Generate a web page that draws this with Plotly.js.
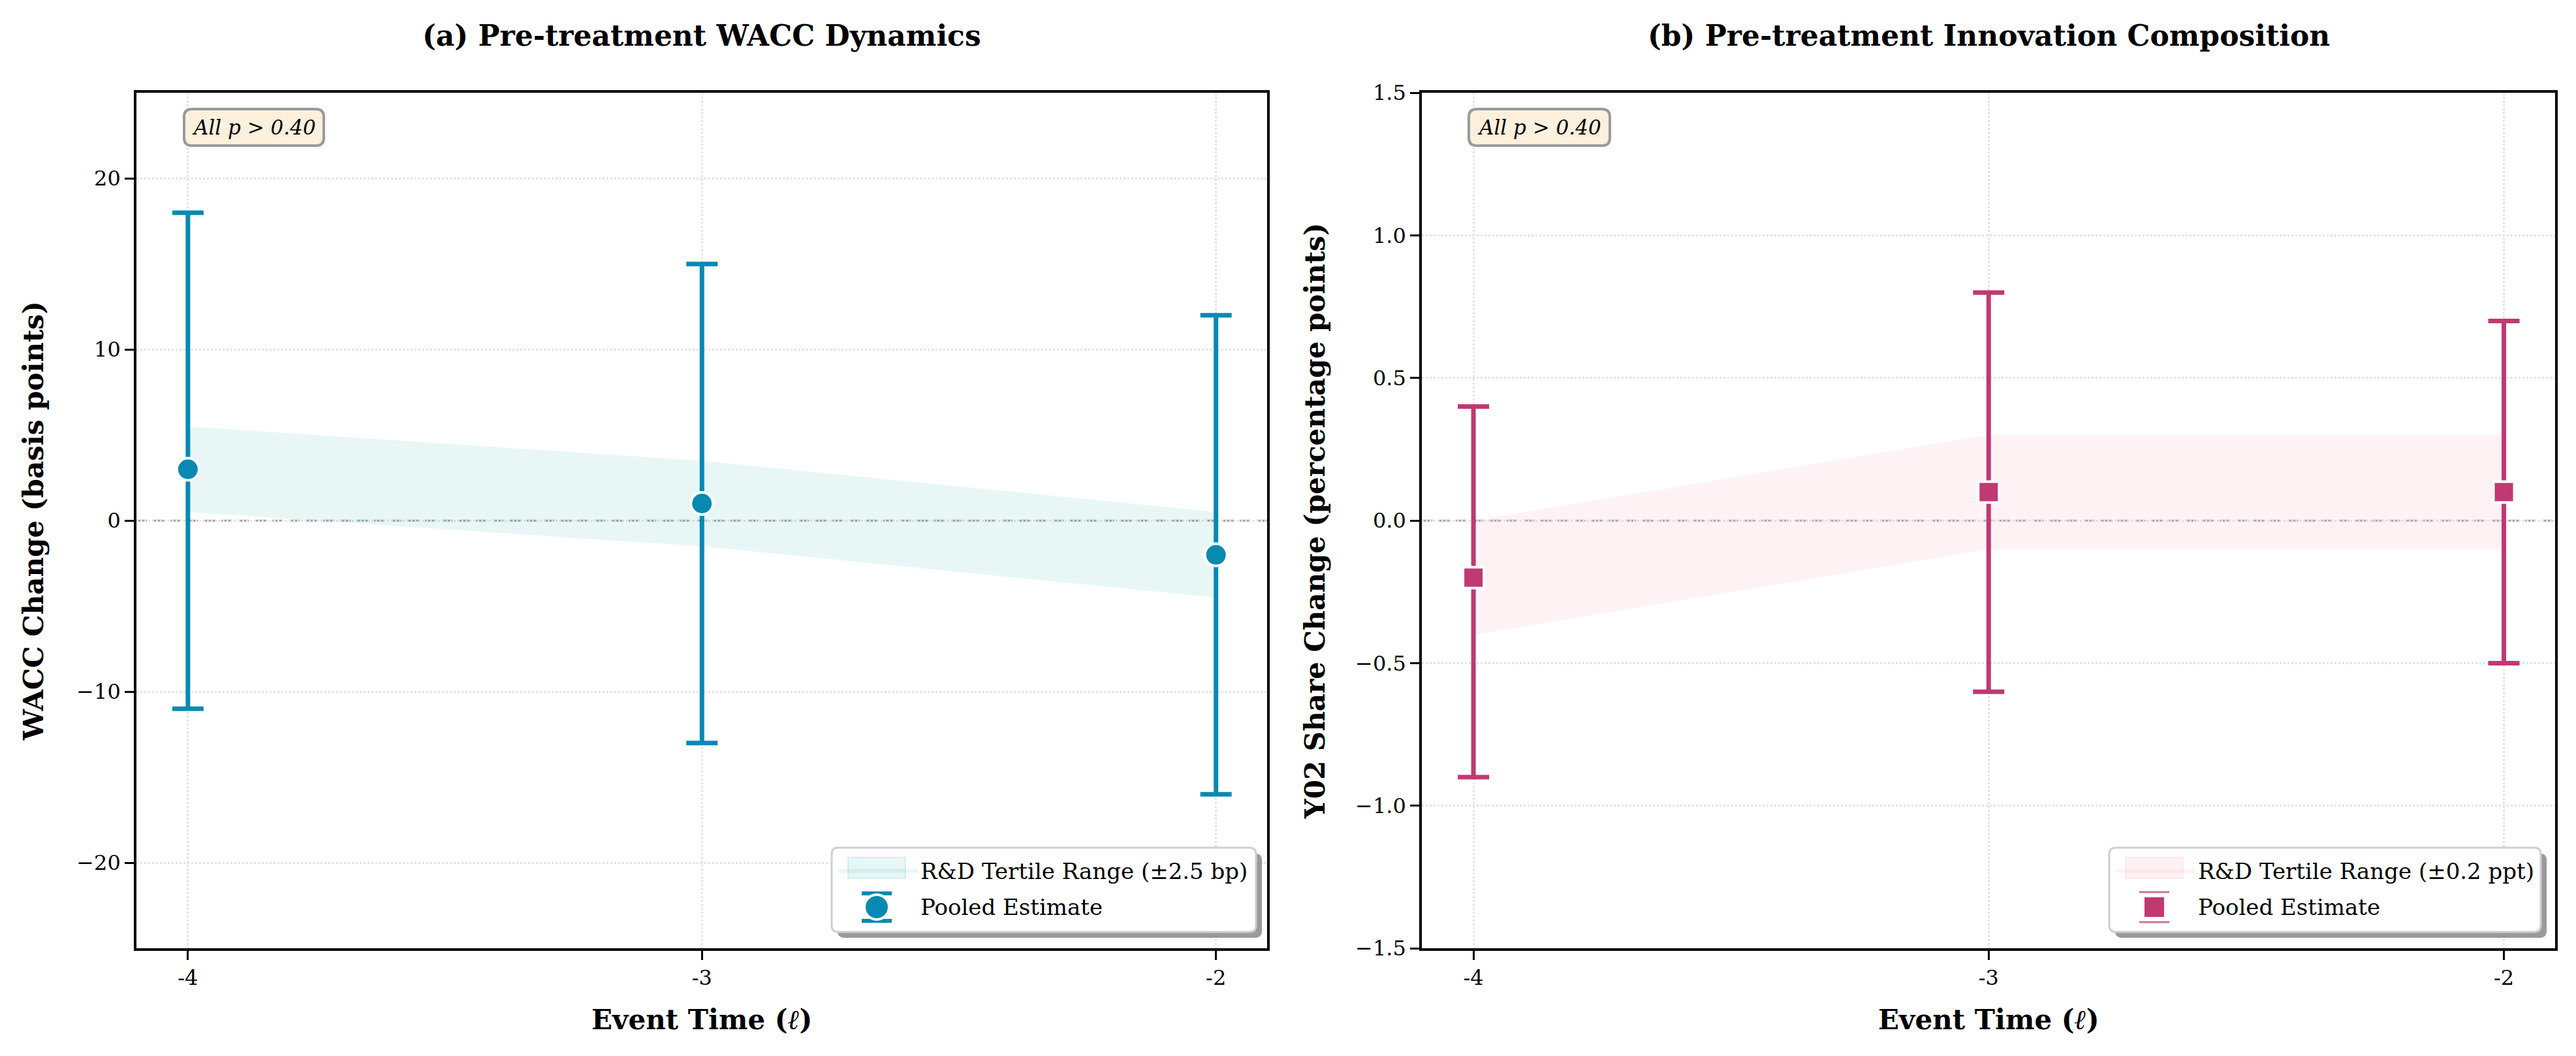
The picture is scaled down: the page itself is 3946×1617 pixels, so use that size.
<!DOCTYPE html>
<html>
<head>
<meta charset="utf-8">
<script src="https://cdn.plot.ly/plotly-3.0.1.min.js"></script>
<style>html,body{margin:0;padding:0;background:#fff;}#chart{width:3946px;height:1617px;}</style>
</head>
<body>
<div id="chart"></div>
<script>
// ---- data ----
const eventTime = [-4, -3, -2];
const eventTickText = ['-4', '-3', '-2'];

const waccEstimate = [3, 1, -2];
const waccCIUpper = [18, 15, 12];
const waccCILower = [-11, -13, -16];
const waccBandHalfWidth = 2.5;

const y02Estimate = [-0.2, 0.1, 0.1];
const y02CIUpper = [0.4, 0.8, 0.7];
const y02CILower = [-0.9, -0.6, -0.5];
const y02BandHalfWidth = 0.2;

const waccTicks = [-20, -10, 0, 10, 20];
const waccTickText = ['\u221220', '\u221210', '0', '10', '20'];
const y02Ticks = [-1.5, -1.0, -0.5, 0, 0.5, 1.0, 1.5];
const y02TickText = ['\u22121.5', '\u22121.0', '\u22120.5', '0.0', '0.5', '1.0', '1.5'];

// ---- styles ----
const W = 3946, H = 1617;
const FONT = 'DejaVu Serif';
const TEAL = '#0889b1';
const MAG = '#bf3a72';
const MAG_LIGHT = '#d2709a';
const TEAL_FILL = 'rgba(0,150,160,0.09)';
const MAG_FILL = 'rgba(255,180,195,0.17)';

function band(est, hw) {
  const up = est.map(v => v + hw);
  const lo = est.map(v => v - hw);
  return {
    x: eventTime.concat(eventTime.slice().reverse()),
    y: up.concat(lo.slice().reverse())
  };
}

const bw = band(waccEstimate, waccBandHalfWidth);
const by = band(y02Estimate, y02BandHalfWidth);

const traces = [
  {
    x: bw.x, y: bw.y, xaxis: 'x', yaxis: 'y', type: 'scatter', mode: 'lines',
    fill: 'toself', fillcolor: TEAL_FILL, line: {width: 0, color: 'rgba(0,150,160,0.10)'},
    name: 'R&D Tertile Range (\u00b12.5 bp)', legend: 'legend', legendgroup: 'a1', hoverinfo: 'skip'
  },
  {
    x: eventTime, y: waccEstimate, xaxis: 'x', yaxis: 'y', type: 'scatter', mode: 'markers',
    marker: {symbol: 'circle', size: 34, color: TEAL, line: {color: '#ffffff', width: 4}},
    error_y: {type: 'data', symmetric: false,
      array: waccCIUpper.map((u, i) => u - waccEstimate[i]),
      arrayminus: waccEstimate.map((e, i) => e - waccCILower[i]),
      color: TEAL, thickness: 7, width: 24},
    name: 'Pooled Estimate', showlegend: false
  },
  {
    // legend entry for the pooled estimate (no points of its own)
    x: [null], y: [null], xaxis: 'x', yaxis: 'y', type: 'scatter', mode: 'markers',
    marker: {symbol: 'circle', size: 14, color: TEAL, line: {width: 0}},
    name: 'Pooled Estimate', legend: 'legend', legendgroup: 'a2'
  },
  {
    x: by.x, y: by.y, xaxis: 'x2', yaxis: 'y2', type: 'scatter', mode: 'lines',
    fill: 'toself', fillcolor: MAG_FILL, line: {width: 0, color: 'rgba(255,170,190,0.15)'},
    name: 'R&D Tertile Range (\u00b10.2 ppt)', legend: 'legend2', legendgroup: 'b1', hoverinfo: 'skip'
  },
  {
    x: eventTime, y: y02Estimate, xaxis: 'x2', yaxis: 'y2', type: 'scatter', mode: 'markers',
    marker: {symbol: 'square', size: 32, color: MAG, line: {color: '#ffffff', width: 4}},
    error_y: {type: 'data', symmetric: false,
      array: y02CIUpper.map((u, i) => u - y02Estimate[i]),
      arrayminus: y02Estimate.map((e, i) => e - y02CILower[i]),
      color: MAG, thickness: 7, width: 24},
    name: 'Pooled Estimate', showlegend: false
  },
  {
    x: [null], y: [null], xaxis: 'x2', yaxis: 'y2', type: 'scatter', mode: 'markers',
    marker: {symbol: 'square', size: 14, color: MAG, line: {width: 0}},
    name: 'Pooled Estimate', legend: 'legend2', legendgroup: 'b2'
  }
];

function xAxis(domain) {
  return {
    domain: domain, range: [-4.1, -1.9], tickmode: 'array', tickvals: eventTime, ticktext: eventTickText,
    showline: true, linecolor: '#000', linewidth: 4, mirror: true,
    ticks: 'outside', ticklen: 14, tickwidth: 3, tickcolor: '#000',
    showgrid: true, gridcolor: '#e3e3e3', griddash: 'dot', gridwidth: 3,
    zeroline: false, tickfont: {family: FONT, size: 32, color: '#000'},
    title: {text: '<b>Event Time (<i>\u2113</i>)</b>', font: {family: FONT, size: 42, color: '#000'}, standoff: 32}
  };
}
function yAxis(domain, range, tv, tt, label, anchor, standoff) {
  return {
    domain: domain, range: range, tickmode: 'array', tickvals: tv, ticktext: tt, anchor: anchor,
    showline: true, linecolor: '#000', linewidth: 4, mirror: true,
    ticks: 'outside', ticklen: 14, tickwidth: 3, tickcolor: '#000',
    showgrid: true, gridcolor: '#e3e3e3', griddash: 'dot', gridwidth: 3,
    zeroline: false, tickfont: {family: FONT, size: 32, color: '#000'},
    title: {text: '<b>' + label + '</b>', font: {family: FONT, size: 42, color: '#000'}, standoff: standoff}
  };
}

// rounded rectangle path in paper coords from pixel box
function rrect(x0, y0, x1, y1, r) {
  const px = v => (v / W).toFixed(5);
  const py = v => (1 - v / H).toFixed(5);
  return 'M' + px(x0 + r) + ',' + py(y0) +
    ' L' + px(x1 - r) + ',' + py(y0) +
    ' Q' + px(x1) + ',' + py(y0) + ' ' + px(x1) + ',' + py(y0 + r) +
    ' L' + px(x1) + ',' + py(y1 - r) +
    ' Q' + px(x1) + ',' + py(y1) + ' ' + px(x1 - r) + ',' + py(y1) +
    ' L' + px(x0 + r) + ',' + py(y1) +
    ' Q' + px(x0) + ',' + py(y1) + ' ' + px(x0) + ',' + py(y1 - r) +
    ' L' + px(x0) + ',' + py(y0 + r) +
    ' Q' + px(x0) + ',' + py(y0) + ' ' + px(x0 + r) + ',' + py(y0) + ' Z';
}
const PX = v => v / W, PY = v => 1 - v / H;
function hline(xa, xb, y, color, width) {
  return {type: 'line', xref: 'paper', yref: 'paper', layer: 'above',
    x0: PX(xa), x1: PX(xb), y0: PY(y), y1: PY(y), line: {color: color, width: width}};
}
// legend frame, shadow, band swatch and enlarged estimate symbol; cx = symbol centre
function legendDeco(x0, y0, x1, y1, cx, fill, edge, kind) {
  const out = [
    {type: 'path', xref: 'paper', yref: 'paper', layer: 'above', path: rrect(x0 + 9, y0 + 9, x1 + 9, y1 + 9, 10),
      fillcolor: 'rgba(120,120,120,0.75)', line: {width: 0}},
    {type: 'path', xref: 'paper', yref: 'paper', layer: 'above', path: rrect(x0, y0, x1, y1, 10),
      fillcolor: '#ffffff', line: {color: '#cfcfcf', width: 3}},
    {type: 'rect', xref: 'paper', yref: 'paper', layer: 'above',
      x0: PX(cx - 44), x1: PX(cx + 44), y0: PY(y0 + 15), y1: PY(y0 + 47),
      fillcolor: fill, line: {color: edge, width: 2}}
  ];
  const cy = y0 + 91;
  if (kind === 'circle') {
    out.push(hline(cx - 23, cx + 23, cy - 21, TEAL, 6));
    out.push(hline(cx - 23, cx + 23, cy + 21, TEAL, 6));
    out.push({type: 'circle', xref: 'paper', yref: 'paper', layer: 'above',
      x0: PX(cx - 19), x1: PX(cx + 19), y0: PY(cy - 19), y1: PY(cy + 19),
      fillcolor: TEAL, line: {color: '#ffffff', width: 4}});
  } else {
    out.push(hline(cx - 23, cx + 23, cy - 23, MAG_LIGHT, 3));
    out.push(hline(cx - 23, cx + 23, cy + 23, MAG_LIGHT, 3));
    out.push({type: 'rect', xref: 'paper', yref: 'paper', layer: 'above',
      x0: PX(cx - 16), x1: PX(cx + 16), y0: PY(cy - 16), y1: PY(cy + 16),
      fillcolor: MAG, line: {color: '#ffffff', width: 2}});
  }
  return out;
}
function pBox(x0, y0, x1, y1) {
  return {type: 'path', xref: 'paper', yref: 'paper', layer: 'above', path: rrect(x0, y0, x1, y1, 12),
    fillcolor: '#fdf0dd', line: {color: '#9a9a9a', width: 4}};
}

const yDom = [0.102, 0.912];
const legendFont = {family: FONT, size: 34, color: '#000'};
const L1X = 1280, L2X = 3237;
const layout = {
  width: W, height: H,
  margin: {l: 0, r: 0, t: 0, b: 0},
  paper_bgcolor: '#fff', plot_bgcolor: '#fff',
  font: {family: FONT, color: '#000'},
  xaxis: Object.assign(xAxis([0.053, 0.492]), {anchor: 'y'}),
  yaxis: yAxis(yDom, [-25, 25], waccTicks, waccTickText, 'WACC Change (basis points)', 'x', 38),
  xaxis2: Object.assign(xAxis([0.552, 0.992]), {anchor: 'y2'}),
  yaxis2: yAxis(yDom, [-1.5, 1.5], y02Ticks, y02TickText, 'Y02 Share Change (percentage points)', 'x2', 34),
  showlegend: true,
  legend: {x: L1X / W, y: 1 - 1304 / H, xanchor: 'left', yanchor: 'top', xref: 'paper', yref: 'paper',
    bgcolor: 'rgba(0,0,0,0)', borderwidth: 0, font: legendFont, itemwidth: 120,
    traceorder: 'grouped', tracegroupgap: 8},
  legend2: {x: L2X / W, y: 1 - 1304 / H, xanchor: 'left', yanchor: 'top', xref: 'paper', yref: 'paper',
    bgcolor: 'rgba(0,0,0,0)', borderwidth: 0, font: legendFont, itemwidth: 120,
    traceorder: 'grouped', tracegroupgap: 8},
  shapes: [
    {type: 'line', xref: 'x domain', yref: 'y', x0: 0, x1: 1, y0: 0, y1: 0, layer: 'below',
      line: {color: '#a0a0a0', width: 3, dash: '16px,10px'}},
    {type: 'line', xref: 'x2 domain', yref: 'y2', x0: 0, x1: 1, y0: 0, y1: 0, layer: 'below',
      line: {color: '#a0a0a0', width: 3, dash: '16px,10px'}}
  ].concat(legendDeco(1274, 1298, 1924, 1427, L1X + 63, TEAL_FILL, 'rgba(0,150,160,0.12)', 'circle'))
   .concat(legendDeco(3231, 1298, 3892, 1427, L2X + 63, MAG_FILL, 'rgba(255,170,190,0.2)', 'square'))
   .concat([pBox(282, 167, 496, 223), pBox(2250, 167, 2466, 223)]),
  annotations: [
    {text: '<b>(a) Pre-treatment WACC Dynamics</b>', xref: 'paper', yref: 'paper', x: 0.2725, y: 0.966,
      xanchor: 'center', yanchor: 'middle', showarrow: false, font: {family: FONT, size: 44, color: '#000'}},
    {text: '<b>(b) Pre-treatment Innovation Composition</b>', xref: 'paper', yref: 'paper', x: 0.772, y: 0.966,
      xanchor: 'center', yanchor: 'middle', showarrow: false, font: {family: FONT, size: 44, color: '#000'}},
    {text: '<i>All p &gt; 0.40</i>', xref: 'paper', yref: 'paper', x: 389 / W, y: 1 - 195 / H,
      xanchor: 'center', yanchor: 'middle', showarrow: false, font: {family: FONT, size: 31, color: '#000'}},
    {text: '<i>All p &gt; 0.40</i>', xref: 'paper', yref: 'paper', x: 2358 / W, y: 1 - 195 / H,
      xanchor: 'center', yanchor: 'middle', showarrow: false, font: {family: FONT, size: 31, color: '#000'}}
  ]
};

Plotly.newPlot('chart', traces, layout, {staticPlot: true, displayModeBar: false});
</script>
</body>
</html>
